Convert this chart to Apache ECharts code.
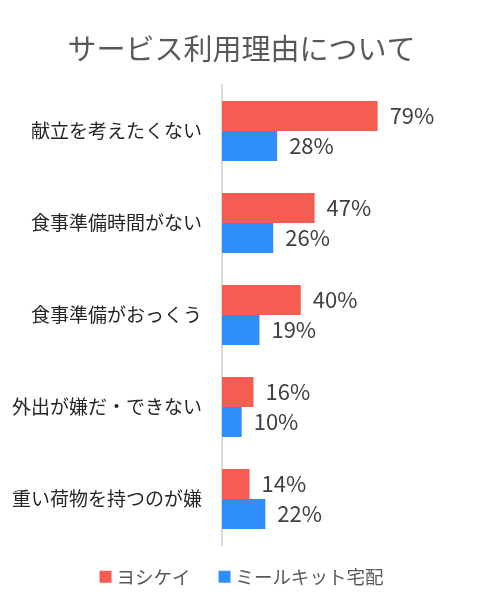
<!DOCTYPE html>
<html><head><meta charset="utf-8">
<script src="https://cdn.jsdelivr.net/npm/echarts@6/dist/echarts.min.js"></script>
<style>html,body{margin:0;padding:0;background:#fff}#c{width:483px;height:613px}</style>
</head><body><div id="c"></div>
<script>
const categories = ['献立を考えたくない','食事準備時間がない','食事準備がおっくう','外出が嫌だ・できない','重い荷物を持つのが嫌'];
const seriesNames = ['ヨシケイ','ミールキット宅配'];
const yoshikei = [79,47,40,16,14];
const mealkit = [28,26,19,10,22];
const FONT = '"Noto Sans CJK JP", sans-serif';
const chart = echarts.init(document.getElementById('c'), null, {renderer:'canvas'});
const lbl = {show:true, position:'right', distance:12, formatter:'{c}%', color:'#404040', fontSize:22, fontFamily:FONT};
chart.setOption({
  animation:false,
  color:['#F55D52','#2E8EFC'],
  title:{text:'サービス利用理由について', left:'center', top:29, textStyle:{fontSize:29, fontWeight:'normal', color:'#595959', fontFamily:FONT}},
  legend:{bottom:22, left:'center', itemWidth:12, itemHeight:12, itemGap:28, icon:'rect', data:seriesNames,
    textStyle:{fontSize:18.5, color:'#595959', fontFamily:FONT}},
  grid:{left:222, top:85, width:197, height:460, containLabel:false},
  xAxis:{type:'value', min:0, max:100, show:false},
  yAxis:{type:'category', inverse:true, data:categories,
    axisLine:{show:true, lineStyle:{color:'#D9D9D9', width:2}}, axisTick:{show:false},
    axisLabel:{margin:20, fontSize:19, color:'#262626', fontFamily:FONT}},
  series:[
    {name:seriesNames[0], type:'bar', data:yoshikei, barGap:'0%', barCategoryGap:'34.8%', label:lbl},
    {name:seriesNames[1], type:'bar', data:mealkit, barGap:'0%', barCategoryGap:'34.8%', label:lbl}
  ]
});
</script></body></html>
